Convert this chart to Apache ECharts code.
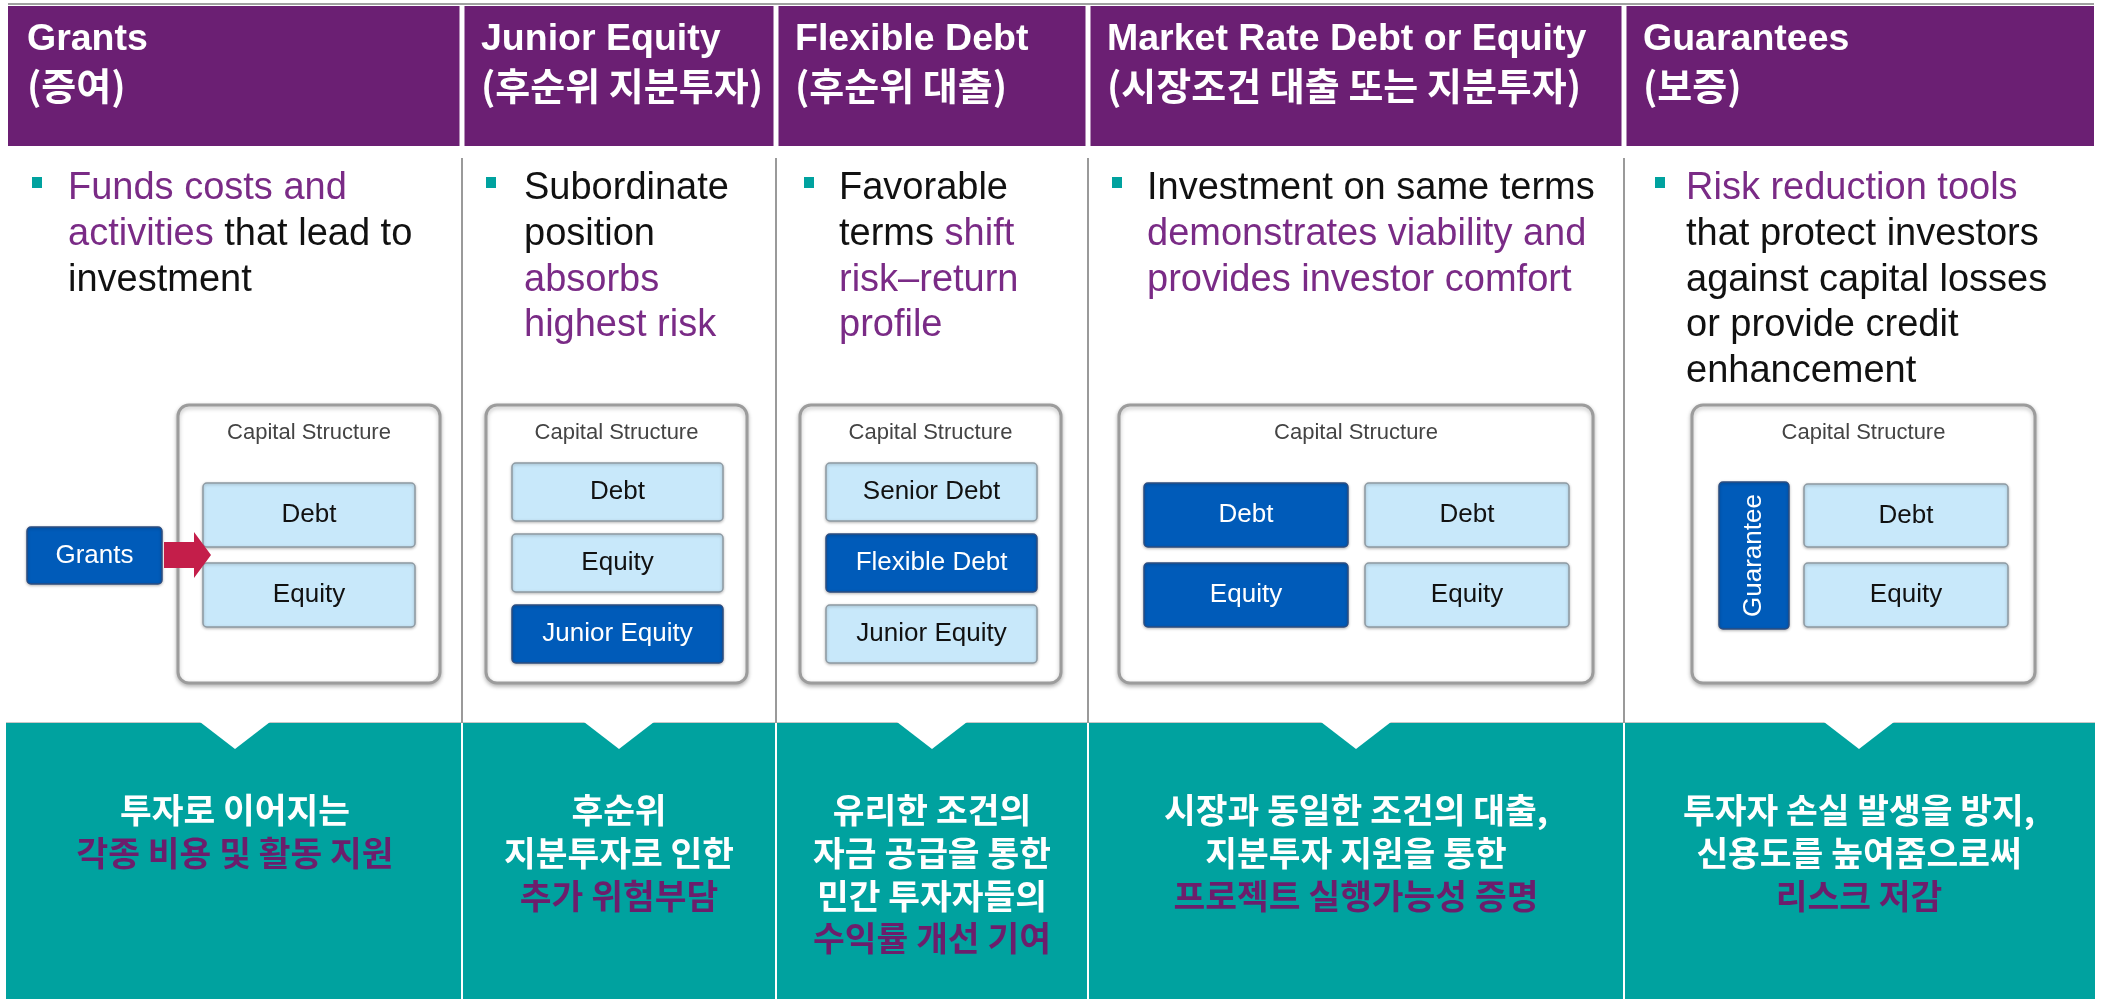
<!DOCTYPE html>
<html>
<head>
<meta charset="utf-8">
<script src="https://cdn.jsdelivr.net/npm/echarts@6/dist/echarts.min.js"></script>
<style>
html,body{margin:0;padding:0;background:#ffffff;}
#chart{width:2101px;height:999px;}
</style>
</head>
<body>
<div id="chart"></div>
<script>
// ---------------- DATA ----------------
const columnTitles = ['Grants', 'Junior Equity', 'Flexible Debt', 'Market Rate Debt or Equity', 'Guarantees'];
const columnTitlesKo = ['(증여)', '(후순위 지분투자)', '(후순위 대출)', '(시장조건 대출 또는 지분투자)', '(보증)'];

// each line: list of [text, highlighted]
const bulletGrants = [[['Funds costs and', 1]], [['activities', 1], [' that lead to', 0]], [['investment', 0]]];
const bulletJunior = [[['Subordinate', 0]], [['position', 0]], [['absorbs', 1]], [['highest risk', 1]]];
const bulletFlexible = [[['Favorable', 0]], [['terms', 0], [' shift', 1]], [['risk\u2013return', 1]], [['profile', 1]]];
const bulletMarket = [[['Investment on same terms', 0]], [['demonstrates viability and', 1]], [['provides investor comfort', 1]]];
const bulletGuarantee = [[['Risk reduction tools', 1]], [['that protect investors', 0]], [['against capital losses', 0]], [['or provide credit', 0]], [['enhancement', 0]]];
const bulletLines = [bulletGrants, bulletJunior, bulletFlexible, bulletMarket, bulletGuarantee];

const structureTitle = 'Capital Structure';
const structureLabels = [
  ['Debt', 'Equity'],
  ['Debt', 'Equity', 'Junior Equity'],
  ['Senior Debt', 'Flexible Debt', 'Junior Equity'],
  ['Debt', 'Equity', 'Debt', 'Equity'],
  ['Debt', 'Equity']
];
const structureHighlight = [[0, 0], [0, 0, 1], [0, 1, 0], [1, 1, 0, 0], [0, 0]];
const sideLabels = ['Grants', null, null, null, 'Guarantee'];

const bottomLines = [
  [['투자로 이어지는', 0], ['각종 비용 및 활동 지원', 1]],
  [['후순위', 0], ['지분투자로 인한', 0], ['추가 위험부담', 1]],
  [['유리한 조건의', 0], ['자금 공급을 통한', 0], ['민간 투자자들의', 0], ['수익률 개선 기여', 1]],
  [['시장과 동일한 조건의 대출,', 0], ['지분투자 지원을 통한', 0], ['프로젝트 실행가능성 증명', 1]],
  [['투자자 손실 발생을 방지,', 0], ['신용도를 높여줌으로써', 0], ['리스크 저감', 1]]
];

// ---------------- LAYOUT / STYLE ----------------
const FONT = '"Liberation Sans", Arial, "Noto Sans CJK KR", sans-serif';
const FONT_KO = '"Noto Sans CJK KR", "Liberation Sans", sans-serif';
const PURPLE_HEAD = '#6B1F73';
const PURPLE_TEXT = '#7A2B86';
const PURPLE_BOTTOM = '#6C1E6C';
const TEAL = '#00A29F';
const BLUE = '#005BB9';
const LIGHT = '#C8E8FA';

const colEdges = [8, 462, 776, 1088, 1624, 2094];
const bulletX = [32, 486, 804, 1112, 1655];
const textX = [68, 524, 839, 1147, 1686];
const outerBoxes = [[178, 440], [486, 747], [800, 1061], [1119, 1593], [1692, 2035]];
const BOX_TOP = 405, BOX_BOTTOM = 683;
// cell rects [x0, x1, y0, y1]
const cellRects = [
  [[203, 415, 483, 547], [203, 415, 563, 627]],
  [[512, 723, 463, 521], [512, 723, 534, 592], [512, 723, 605, 663]],
  [[826, 1037, 463, 521], [826, 1037, 534, 592], [826, 1037, 605, 663]],
  [[1144, 1348, 483, 547], [1144, 1348, 563, 627], [1365, 1569, 483, 547], [1365, 1569, 563, 627]],
  [[1804, 2008, 484, 547], [1804, 2008, 563, 627]]
];
const sideRects = [[27, 162, 527, 584], null, null, null, [1719, 1789, 482, 629]];

const TEAL_TOP = 723;
const elements = [];

// top thin gray line
elements.push({type: 'rect', z: 1, shape: {x: 8, y: 3, width: 2086, height: 2}, style: {fill: '#a0a0a0'}});

for (let i = 0; i < 5; i++) {
  const left = colEdges[i] + (i > 0 ? 2.5 : 0);
  const right = colEdges[i + 1] - (i < 4 ? 2.5 : 0);
  // header
  elements.push({type: 'rect', z: 1, shape: {x: left, y: 6, width: right - left, height: 140}, style: {fill: PURPLE_HEAD}});
  elements.push({type: 'text', z: 5, x: colEdges[i] + 19, y: 40, style: {
    text: columnTitles[i], fill: '#ffffff', fontSize: 37.5, fontWeight: 'bold', fontFamily: FONT,
    align: 'left', verticalAlign: 'middle', textAlign: 'left', textVerticalAlign: 'middle'}});
  elements.push({type: 'text', z: 5, x: colEdges[i] + 19, y: 86, style: {
    text: columnTitlesKo[i], fill: '#ffffff', fontSize: 38, fontWeight: 'bold', fontFamily: FONT_KO,
    align: 'left', verticalAlign: 'middle', textAlign: 'left', textVerticalAlign: 'middle'}});

  // bullet square
  elements.push({type: 'rect', z: 5, shape: {x: bulletX[i], y: 177, width: 10, height: 11}, style: {fill: TEAL}});
  // bullet lines
  bulletLines[i].forEach((segs, k) => {
    const txt = segs.map(s => '{' + (s[1] ? 'h' : 'n') + '|' + s[0] + '}').join('');
    elements.push({type: 'text', z: 5, x: textX[i], y: 189 + k * 45.6, style: {
      text: txt, fontSize: 38, fontFamily: FONT, fill: '#111111',
      align: 'left', verticalAlign: 'middle', textAlign: 'left', textVerticalAlign: 'middle',
      rich: {
        h: {fill: PURPLE_TEXT, fontSize: 38, fontFamily: FONT},
        n: {fill: '#111111', fontSize: 38, fontFamily: FONT}
      }}});
  });

  // outer capital structure box
  const ob = outerBoxes[i];
  elements.push({type: 'rect', z: 3, shape: {x: ob[0], y: BOX_TOP, width: ob[1] - ob[0], height: BOX_BOTTOM - BOX_TOP, r: 11},
    style: {fill: '#ffffff', stroke: '#9c9c9c', lineWidth: 3, shadowBlur: 4, shadowColor: 'rgba(0,0,0,0.25)', shadowOffsetY: 2}});
  elements.push({type: 'text', z: 5, x: (ob[0] + ob[1]) / 2, y: 433, style: {
    text: structureTitle, fill: '#444444', fontSize: 22, fontFamily: FONT,
    align: 'center', verticalAlign: 'middle', textAlign: 'center', textVerticalAlign: 'middle'}});

  // cells
  cellRects[i].forEach((r, k) => {
    const dark = structureHighlight[i][k];
    elements.push({type: 'rect', z: 4, shape: {x: r[0], y: r[2], width: r[1] - r[0], height: r[3] - r[2], r: 4},
      style: {fill: dark ? BLUE : LIGHT, stroke: dark ? '#2d4d80' : '#8e9aa3', lineWidth: 1.5,
        shadowBlur: 3, shadowColor: 'rgba(0,0,0,0.25)', shadowOffsetY: 1}});
    elements.push({type: 'text', z: 5, x: (r[0] + r[1]) / 2, y: (r[2] + r[3]) / 2, style: {
      text: structureLabels[i][k], fill: dark ? '#ffffff' : '#111111', fontSize: 26, fontFamily: FONT,
      align: 'center', verticalAlign: 'middle', textAlign: 'center', textVerticalAlign: 'middle'}});
  });

  // side element (Grants / Guarantee)
  const sr = sideRects[i];
  if (sr) {
    elements.push({type: 'rect', z: 4, shape: {x: sr[0], y: sr[2], width: sr[1] - sr[0], height: sr[3] - sr[2], r: 4},
      style: {fill: BLUE, stroke: '#2d4d80', lineWidth: 1.5, shadowBlur: 3, shadowColor: 'rgba(0,0,0,0.25)', shadowOffsetY: 1}});
    const vertical = (sr[3] - sr[2]) > (sr[1] - sr[0]);
    elements.push({type: 'text', z: 5, x: (sr[0] + sr[1]) / 2, y: (sr[2] + sr[3]) / 2,
      rotation: vertical ? Math.PI / 2 : 0, style: {
      text: sideLabels[i], fill: '#ffffff', fontSize: 26, fontFamily: FONT,
      align: 'center', verticalAlign: 'middle', textAlign: 'center', textVerticalAlign: 'middle'}});
  }

  // vertical gray divider
  if (i < 4) {
    elements.push({type: 'rect', z: 2, shape: {x: colEdges[i + 1] - 1, y: 158, width: 2, height: TEAL_TOP - 158}, style: {fill: '#9a9a9a'}});
  }

  // bottom teal block
  const tl = i === 0 ? 6 : colEdges[i] + 1;
  const tr = i === 4 ? 2095 : colEdges[i + 1] - 1;
  elements.push({type: 'rect', z: 1, shape: {x: tl, y: TEAL_TOP, width: tr - tl, height: 999 - TEAL_TOP}, style: {fill: TEAL}});
  const cx = (colEdges[i] + colEdges[i + 1]) / 2;
  elements.push({type: 'polygon', z: 2, shape: {points: [[cx - 35, TEAL_TOP - 1], [cx + 35, TEAL_TOP - 1], [cx, TEAL_TOP + 26]]}, style: {fill: '#ffffff'}});
  bottomLines[i].forEach((ln, k) => {
    elements.push({type: 'text', z: 5, x: cx, y: 810 + k * 42.7, style: {
      text: ln[0], fill: ln[1] ? PURPLE_BOTTOM : '#ffffff', fontSize: 34.5, fontWeight: 'bold', fontFamily: FONT_KO,
      align: 'center', verticalAlign: 'middle', textAlign: 'center', textVerticalAlign: 'middle'}});
  });
}

// Grants arrow
elements.push({type: 'polygon', z: 6, shape: {points: [[164, 542], [194, 542], [194, 532], [211, 555], [194, 578], [194, 568], [164, 568]]},
  style: {fill: '#C41E4A'}});
// light line at top of teal band
elements.push({type: 'rect', z: 1, shape: {x: 6, y: TEAL_TOP - 1, width: 2089, height: 1}, style: {fill: '#c8c8c8'}});

const chart = echarts.init(document.getElementById('chart'), null, {renderer: 'canvas'});
chart.setOption({
  backgroundColor: '#ffffff',
  animation: false,
  graphic: {elements: elements}
});
</script>
</body>
</html>
